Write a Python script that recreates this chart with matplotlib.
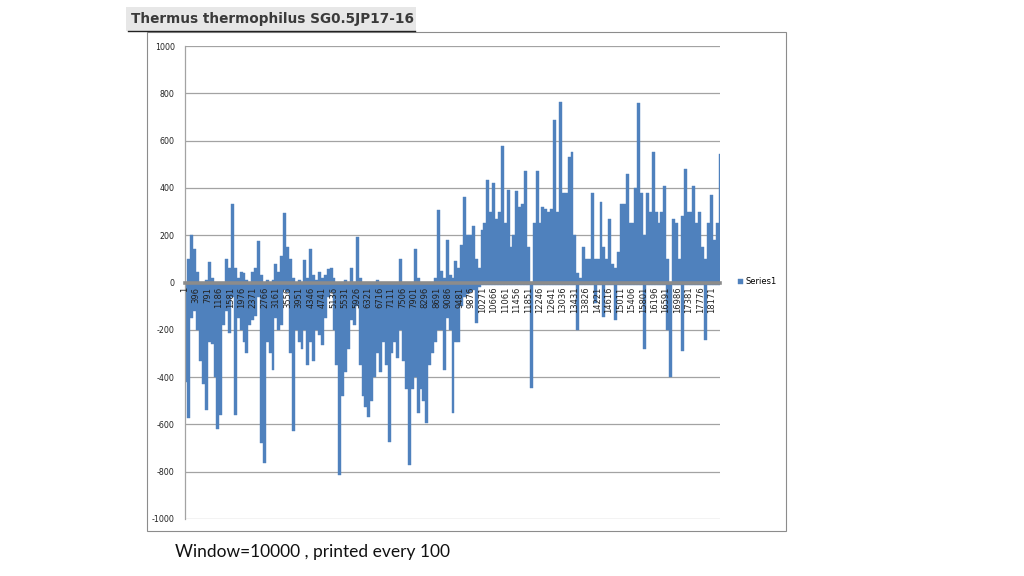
import numpy as np
import matplotlib
matplotlib.use("Agg")
import matplotlib.pyplot as plt
from matplotlib.patches import Rectangle
from matplotlib.lines import Line2D

plt.rcParams["axes.unicode_minus"] = False

# each value = highest / lowest bar inside a block of 100 categories
pos_vals = [
    0, 100, 200, 140, 45, 0, 0, 10, 85, 20,
    0, 0, 0, 0, 100, 60, 333, 60, 20, 45,
    40, 10, 0, 45, 60, 175, 30, 0, 10, 0,
    10, 80, 45, 110, 295, 150, 100, 20, 0, 10,
    0, 95, 20, 140, 30, 10, 45, 20, 30, 55,
    60, 20, 0, 0, 0, 10, 0, 60, 0, 193,
    20, 0, 0, 0, 0, 0, 10, 0, 0, 0,
    0, 0, 0, 0, 100, 0, 0, 0, 0, 140,
    20, 0, 0, 0, 0, 0, 20, 305, 50, 20,
    180, 30, 20, 90, 60, 160, 360, 200, 200, 240,
    100, 60, 220, 250, 435, 300, 420, 270, 300, 579,
    250, 390, 150, 200, 385, 320, 330, 470, 150, 0,
    250, 470, 250, 320, 310, 300, 310, 685, 300, 763,
    380, 380, 530, 550, 200, 40, 20, 150, 100, 100,
    380, 100, 100, 340, 150, 100, 270, 80, 60, 130,
    330, 330, 460, 250, 250, 400, 757, 380, 200, 380,
    300, 550, 300, 250, 300, 410, 100, 0, 270, 250,
    100, 280, 480, 300, 300, 410, 250, 300, 150, 100,
    250, 370, 180, 250, 545,
]
neg_vals = [
    -420, -575, -150, -120, -200, -330, -430, -540, -250, -260,
    -400, -620, -560, -180, -120, -215, -60, -560, -150, -200,
    -250, -300, -180, -160, -140, -60, -680, -765, -250, -300,
    -370, -150, -200, -180, -30, -40, -300, -630, -200, -250,
    -280, -200, -350, -250, -330, -200, -220, -265, -150, -60,
    -40, -200, -350, -815, -480, -380, -280, -160, -180, -100,
    -350, -480, -525, -570, -500, -400, -300, -380, -250, -350,
    -673, -300, -250, -320, -200, -330, -450, -772, -450, -400,
    -553, -450, -500, -595, -350, -300, -250, -200, -200, -370,
    -150, -200, -550, -250, -250, -100, -60, -50, -40, -30,
    -170, -20, -10, -10, -10, -10, -10, -10, -10, -10,
    -10, -10, -10, -10, -10, -10, -10, -10, -10, -445,
    -10, -10, -10, -10, -10, -10, -10, -10, -10, -10,
    -10, -10, -10, -10, -10, -200, -10, -10, -10, -10,
    -10, -85, -10, -10, -145, -10, -10, -10, -160, -10,
    -10, -10, -10, -10, -10, -10, -10, -10, -280, -10,
    -10, -10, -10, -10, -10, -10, -200, -400, -10, -10,
    -10, -290, -10, -10, -10, -10, -10, -10, -10, -245,
    -10, -10, -10, -10, -10,
]
bin_size = 100
n_categories = 18450

tick_labels = ["1", "396", "791", "1186", "1581", "1976", "2371", "2766",
               "3161", "3556", "3951", "4346", "4741", "5136", "5531", "5926",
               "6321", "6716", "7111", "7506", "7901", "8296", "8691", "9086",
               "9481", "9876", "10271", "10666", "11061", "11456", "11851",
               "12246", "12641", "13036", "13431", "13826", "14221", "14616",
               "15011", "15406", "15801", "16196", "16591", "16986", "17381",
               "17776", "18171"]

blue = "#4f81bd"

fig = plt.figure(figsize=(10.24, 5.76), dpi=100)
ax = fig.add_axes([184.5 / 1024, 1 - 519 / 576, 535.5 / 1024, 473 / 576])

xs = np.arange(len(pos_vals)) * bin_size + bin_size / 2
bars = ax.bar(xs, pos_vals, width=bin_size, color=blue, edgecolor=blue,
              linewidth=0.3, label="Series1", zorder=2)
ax.bar(xs, neg_vals, width=bin_size, color=blue, edgecolor=blue,
       linewidth=0.3, zorder=2)

# spines first: moving a spine resets the tick labels
for s in ["top", "right"]:
    ax.spines[s].set_visible(False)
ax.spines["bottom"].set_position(("data", 0))
ax.spines["bottom"].set_color("#8c8c8c")
ax.spines["bottom"].set_linewidth(2.6)
ax.spines["bottom"].set_zorder(3)
ax.spines["left"].set_color("#a3a3a3")
ax.spines["left"].set_linewidth(0.9)

ax.set_xlim(0.5, n_categories + 0.5)
ax.set_ylim(-1000, 1000)
yticks = list(range(-1000, 1001, 200))
ax.set_yticks(yticks)
# gridlines under the bars, tick labels above them
for yv in yticks:
    ax.axhline(yv, color="#a3a3a3", linewidth=0.9, zorder=1)
ax.set_axisbelow(False)

ax.set_xticks([int(t) for t in tick_labels])
ax.set_xticklabels(tick_labels, rotation=90, fontsize=6, color="#222222",
                   va="top", ha="center")
ax.tick_params(axis="x", length=0, pad=3)
ax.tick_params(axis="y", length=0, pad=7, labelsize=5.7, labelcolor="#222222")

ax.legend(handles=[bars], loc="center left", bbox_to_anchor=(738 / 1024, 1 - 282 / 576),
          bbox_transform=fig.transFigure, frameon=False, fontsize=6,
          handlelength=0.6, handleheight=0.6, handletextpad=0.3,
          borderpad=0, borderaxespad=0)

# chart frame
fig.patches.append(Rectangle((147 / 1024, 1 - 531 / 576), 639 / 1024, 499 / 576,
                             transform=fig.transFigure, fill=False,
                             edgecolor="#8c8c8c", linewidth=0.8))

# title box with underline
fig.patches.append(Rectangle((126 / 1024, 1 - 31 / 576), 290 / 1024, 24 / 576,
                             transform=fig.transFigure, facecolor="#e7e7e7",
                             edgecolor="none"))
fig.text(131 / 1024, 1 - 19 / 576, "Thermus thermophilus SG0.5JP17-16",
         fontsize=9.8, fontweight="bold", color="#3a3a3a", va="center", ha="left")
fig.lines.append(Line2D([128 / 1024, 415 / 1024], [1 - 31 / 576, 1 - 31 / 576],
                        transform=fig.transFigure, color="#222222", linewidth=1))

fig.text(175 / 1024, 1 - 552 / 576, "Window=10000 , printed every 100",
         fontsize=12.5, family=["Lato", "DejaVu Sans"], color="#111111",
         va="center", ha="left")

fig.savefig("out.png", dpi=100)
